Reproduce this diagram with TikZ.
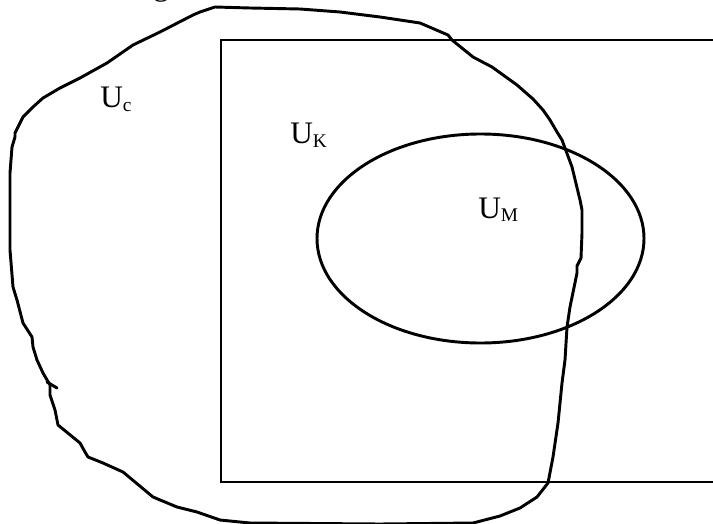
\documentclass[tikz,border=0pt]{standalone}
\usepackage{fontspec}
\setmainfont{Liberation Serif}
\usetikzlibrary{calc}
\newcommand{\setlbl}[2]{#1\raisebox{-2.4pt}{\fontsize{14.5}{15}\selectfont #2}}
\tikzset{
  rand/.style={black,line width=2.2pt},
  kurve/.style={black,line width=2.2pt,line join=round,line cap=round},
  lbl/.style={inner sep=0pt,anchor=base west,font=\fontsize{23.5}{25}\selectfont},
}
\begin{document}
\begin{tikzpicture}[x=0.75pt,y=-0.75pt]
  \useasboundingbox (0,0) rectangle (713,524);
  % cut-off text above the figure
  \node[lbl] (rest) at (153,-4.5) {g};
  % set K
  \draw[rand] (730,40) -- (221,40) -- (221,482) -- (730,482);
  % set M
  \draw[rand] (480.5,238.5) ellipse [x radius=163.5,y radius=104.5];
  % set c, drawn by hand
  \draw[kurve] (215,7) -- (250,8) -- (300,9) -- (340,12) -- (380,17) -- (420,23)
    -- (448,35) -- (452,40) -- (473,57) -- (492,67) -- (517,85) -- (533,99)
    -- (543,110) -- (550,120) -- (557,132) -- (562,140) -- (572,167) -- (580,200)
    -- (582,210) -- (582,233) -- (581,258) -- (577,266) -- (577,273) -- (570,307)
    -- (567,327) -- (565,360) -- (562,383) -- (558,423) -- (553,457) -- (548,483)
    -- (537,497) -- (520,508) -- (500,516) -- (473,523) -- (380,524) -- (250,523)
    -- (220,520) -- (197,512) -- (177,507) -- (153,497) -- (123,472) -- (103,463)
    -- (88,457) -- (85,452) -- (80,443) -- (58,425) -- (55,410) -- (50,395)
    -- (50,385) -- (43,373) -- (37,360) -- (33,347) -- (32,337) -- (23,323)
    -- (17,300) -- (13,287) -- (10,250) -- (10,173) -- (12,147) -- (15,137)
    -- (15,133) -- (23,117) -- (33,107) -- (43,98) -- (60,88) -- (80,78)
    -- (107,63) -- (133,45) -- (160,32) -- (193,15) -- (200,12) -- cycle;
  \draw[kurve] (47,382) -- (57,388);
  % labels
  \node[lbl] (Uc) at (100,108) {\setlbl{U}{c}};
  \node[lbl] (UK) at (290,144) {\setlbl{U}{K}};
  \node[lbl] (UM) at (478,218) {\setlbl{U}{M}};
\end{tikzpicture}
\end{document}
